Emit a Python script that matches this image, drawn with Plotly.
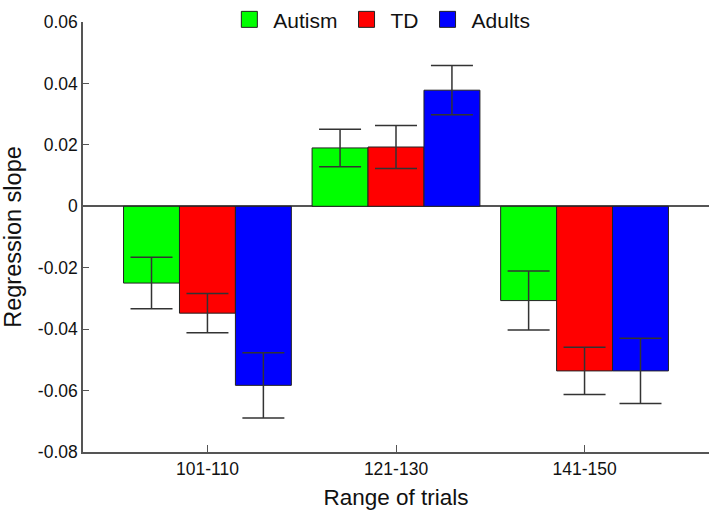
import plotly.graph_objects as go

categories = ["101-110", "121-130", "141-150"]
groups = ["Autism", "TD", "Adults"]
autism = [-0.0250, 0.0190, -0.0307]
td = [-0.0348, 0.0193, -0.0536]
adults = [-0.0583, 0.0378, -0.0536]
autism_err = [0.0084, 0.0061, 0.0096]
td_err = [0.0064, 0.0070, 0.0077]
adults_err = [0.0106, 0.0080, 0.0106]
yticks = [0.06, 0.04, 0.02, 0, -0.02, -0.04, -0.06, -0.08]
ytick_labels = ["0.06", "0.04", "0.02", "0", "-0.02", "-0.04", "-0.06", "-0.08"]

colors = ["#00FF00", "#FF0000", "#0000FF"]
values = [autism, td, adults]
errors = [autism_err, td_err, adults_err]

FONT = "Arial, Liberation Sans, sans-serif"
fig = go.Figure()
for name, vals, errs, col in zip(groups, values, errors, colors):
    fig.add_trace(go.Bar(
        x=categories, y=vals, name=name, showlegend=False,
        marker=dict(color=col, line=dict(color="#222222", width=1)),
        error_y=dict(type="data", array=errs, visible=True,
                     color="#333333", thickness=1.5, width=21),
    ))
for name, col in zip(groups, colors):
    fig.add_trace(go.Scatter(
        x=[None], y=[None], mode="markers", name=name,
        marker=dict(symbol="square", size=28, color=col,
                    line=dict(color="#222222", width=1)),
    ))

fig.update_layout(
    width=709, height=510,
    margin=dict(l=83, r=0, t=22, b=58, autoexpand=False),
    paper_bgcolor="white", plot_bgcolor="white",
    barmode="group", bargap=0.11, bargroupgap=0,
    font=dict(family=FONT, color="#111111", size=17),
    legend=dict(orientation="h", x=0.475, xanchor="center",
                y=1.053, yref="paper", yanchor="top",
                font=dict(size=21, family=FONT), itemwidth=38,
                bgcolor="rgba(0,0,0,0)"),
    xaxis=dict(
        range=[-0.66, 2.66], showline=True, linecolor="#555555", linewidth=1.5,
        ticks="inside", ticklen=7, tickcolor="#555555", showgrid=False,
        tickfont=dict(size=17.5),
        title=dict(text="Range of trials", font=dict(size=22.5), standoff=11),
    ),
    yaxis=dict(
        range=[-0.08, 0.06], tickvals=yticks, ticktext=ytick_labels,
        showline=True, linecolor="#555555", linewidth=1.5,
        ticks="inside", ticklen=6, tickcolor="#555555", showgrid=False,
        zeroline=True, zerolinecolor="#555555", zerolinewidth=1.5,
        tickfont=dict(size=17.5),
        title=dict(text="Regression slope", font=dict(size=23.5), standoff=12),
    ),
)

fig.write_html("out.html", config={"displayModeBar": False},
               post_script="document.body.style.margin='0';document.body.style.overflow='hidden';")
